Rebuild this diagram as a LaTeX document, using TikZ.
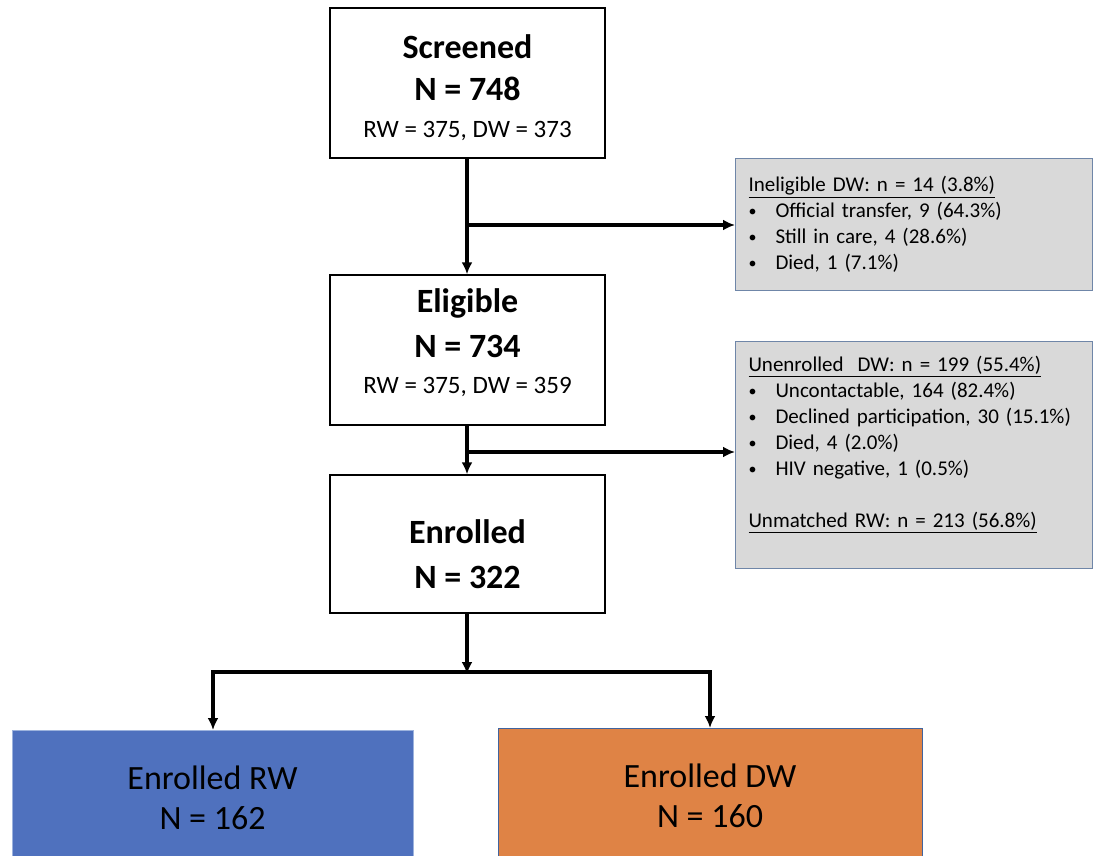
\documentclass[tikz,border=0pt]{standalone}
\usepackage{fontspec}
\setmainfont{Carlito}
\usetikzlibrary{arrows.meta,positioning}

\definecolor{boxgray}{HTML}{D9D9D9}
\definecolor{grayedge}{HTML}{6F86A8}
\definecolor{rwblue}{HTML}{4F71BE}
\definecolor{rwedge}{HTML}{9DB3DD}
\definecolor{dworange}{HTML}{DF8345}
\definecolor{dwedge}{HTML}{41649E}

\tikzset{
  mainbox/.style={draw, line width=1.4pt, minimum width=275pt, align=center, inner sep=0pt,
    font=\fontsize{34}{42}\selectfont\bfseries},
  sidebox/.style={draw=grayedge, line width=1pt, fill=boxgray, anchor=north west,
    minimum width=357pt, text width=331pt, align=left, inner xsep=13pt, inner ysep=0pt,
    font=\fontsize{21}{26}\selectfont},
  groupbox/.style={minimum width=#1, minimum height=134pt, anchor=north, inner sep=0pt,
    align=center, font=\fontsize{34}{40}\selectfont},
  flow/.style={line width=3.2pt, -{Latex[length=12pt,width=11pt]}},
  plain/.style={line width=3.2pt}
}
\newcommand{\bul}{\makebox[27pt][l]{\raisebox{1pt}{\fontsize{16}{16}\selectfont\textbullet}}}
\newcommand{\subline}[1]{{\normalfont\fontsize{25}{30}\selectfont #1}}

\begin{document}
\begin{tikzpicture}[x=1pt, y=-1pt]
  \useasboundingbox (0,0) rectangle (1095,856);
  \clip (0,0) rectangle (1095,856);

  % main column
  \node[mainbox, minimum height=150pt] (screened) at (467.5,83)
    {\rule{0pt}{34pt}Screened\\N = 748\\[-5pt]\subline{RW = 375, DW = 373}};
  \node[mainbox, minimum height=150pt, font=\fontsize{34}{45}\selectfont\bfseries] (eligible) at (467.5,350)
    {Eligible\\N = 734\\[-9pt]\subline{RW = 375, DW = 359\rule[-18pt]{0pt}{18pt}}};
  \node[mainbox, minimum height=138pt, font=\fontsize{34}{45}\selectfont\bfseries] (enrolled) at (467.5,544)
    {\rule{0pt}{45pt}Enrolled\\N = 322};

  % exclusion boxes
  \node[sidebox, minimum height=132pt] (inelig) at (735,158)
    {\underline{Ineligible DW: n = 14 (3.8\%)}\\
     \bul Official transfer, 9 (64.3\%)\\
     \bul Still in care, 4 (28.6\%)\\
     \bul Died, 1 (7.1\%)};
  \node[sidebox, minimum height=227pt] (unenr) at (735,341)
    {\underline{Unenrolled\ \ DW: n = 199 (55.4\%)}\\
     \bul Uncontactable, 164 (82.4\%)\\
     \bul Declined participation, 30 (15.1\%)\\
     \bul Died, 4 (2.0\%)\\
     \bul HIV negative, 1 (0.5\%)\\[26pt]
     \underline{Unmatched RW: n = 213 (56.8\%)}\\ \mbox{}};

  % enrolled groups
  \node[groupbox=401pt, fill=rwblue, draw=rwedge, line width=1pt] (rw) at (212.5,730)
    {Enrolled RW\\N = 162};
  \node[groupbox=424pt, fill=dworange, draw=dwedge, line width=1pt] (dw) at (710,728)
    {Enrolled DW\\N = 160};

  % branch points
  \coordinate (b1) at (467,225);
  \coordinate (b2) at (467,452);
  \coordinate (split) at (467,672);
  \coordinate (splitL) at (213,672);
  \coordinate (splitR) at (710,672);

  % connectors
  \draw[flow] (screened.south -| b1) -- (eligible.north -| b1);
  \draw[flow] (b1) -- (b1 -| inelig.west);
  \draw[flow] (eligible.south -| b2) -- (enrolled.north -| b2);
  \draw[flow] (b2) -- (b2 -| unenr.west);
  \draw[flow] (enrolled.south -| split) -- ([yshift=-2pt]split);
  \draw[plain] ([xshift=-1.6pt]splitL) -- ([xshift=1.6pt]splitR);
  \draw[flow] (splitL) -- (rw.north -| splitL);
  \draw[flow] (splitR) -- (dw.north -| splitR);
\end{tikzpicture}
\end{document}
